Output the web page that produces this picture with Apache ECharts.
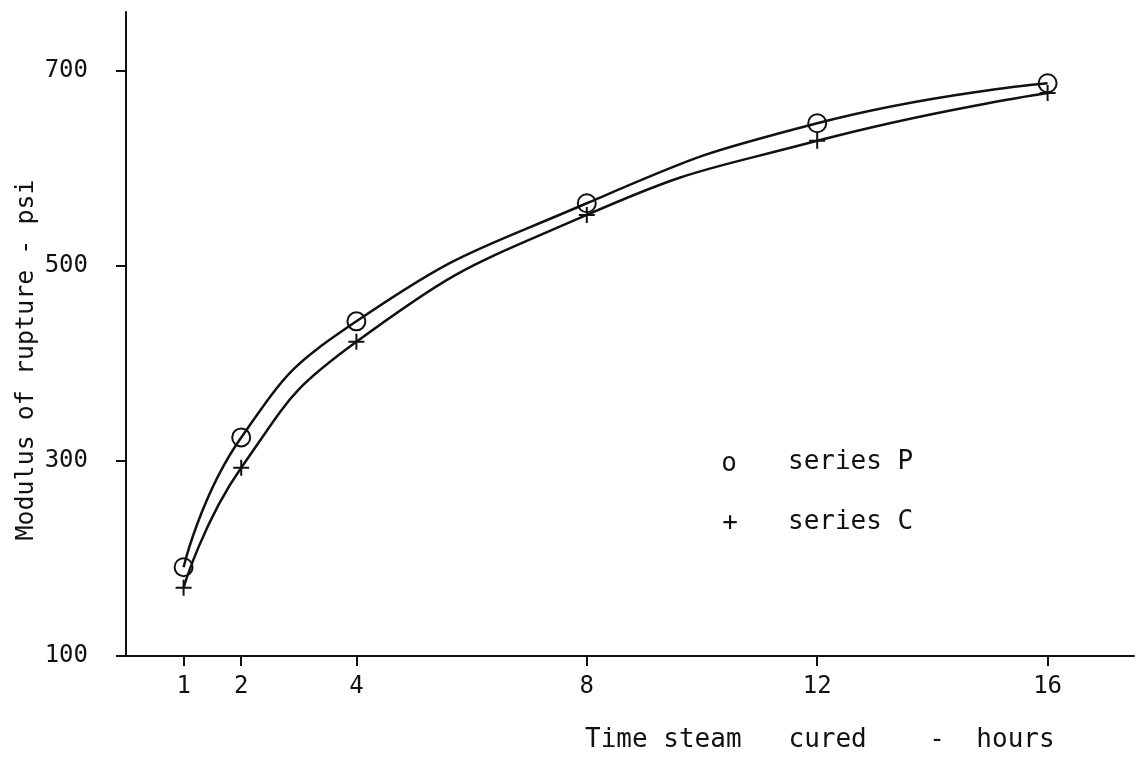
<!DOCTYPE html>
<html>
<head>
    <meta charset="utf-8">
    <title>Modulus of rupture vs time steam cured</title>
    <script src="https://cdn.jsdelivr.net/npm/echarts@6/dist/echarts.min.js"></script>
    <style>
        html, body { margin: 0; padding: 0; background: #fff; }
    </style>
</head>
<body>
    <div id="chart" style="width: 1135px;height:758px;"></div>
    <script type="text/javascript">
        // data
        var hours = [1, 2, 4, 8, 12, 16];
        var seriesP = [191, 324, 443, 564, 646, 687];
        var seriesC = [170, 293, 422, 552, 628, 677];
        var xTicks = [1, 2, 4, 8, 12, 16];
        var yTicks = [100, 300, 500, 700];

        var font = '"DejaVu Sans Mono", "Liberation Mono", monospace';
        var ink = '#111';

        function pairs(xs, ys) {
            return xs.map(function (x, i) { return [x, ys[i]]; });
        }

        // plain text helper for titles and the key
        function label(text, x, y, size, align, rotate) {
            return {
                type: 'text',
                x: x,
                y: y,
                rotation: rotate || 0,
                style: {
                    text: text,
                    fill: ink,
                    font: size + 'px ' + font,
                    align: align,
                    verticalAlign: 'middle'
                }
            };
        }

        var myChart = echarts.init(document.getElementById('chart'));

        var option = {
            backgroundColor: '#fff',
            animation: false,
            grid: {
                left: 126,
                right: 1,
                top: 12,
                bottom: 102
            },
            xAxis: {
                type: 'value',
                min: 0,
                max: 17.5,
                splitLine: { show: false },
                axisLine: { lineStyle: { color: ink, width: 2 } },
                axisTick: {
                    customValues: xTicks,
                    length: 10,
                    lineStyle: { color: ink, width: 2 }
                },
                axisLabel: {
                    customValues: xTicks,
                    margin: 19,
                    color: ink,
                    fontFamily: font,
                    fontSize: 24
                }
            },
            yAxis: {
                type: 'value',
                min: 100,
                max: 760,
                splitLine: { show: false },
                axisLine: { show: true, lineStyle: { color: ink, width: 2 } },
                axisTick: {
                    show: true,
                    customValues: yTicks,
                    length: 10,
                    lineStyle: { color: ink, width: 2 }
                },
                axisLabel: {
                    customValues: yTicks,
                    margin: 38,
                    color: ink,
                    fontFamily: font,
                    fontSize: 24,
                    padding: [8, 0, 0, 0]
                }
            },
            graphic: [
                label('Modulus of rupture - psi', 26, 360, 25, 'center', Math.PI / 2),
                label('Time steam   cured    -  hours', 585, 740, 26, 'left'),
                label('o', 729, 464, 26, 'center'),
                label('series P', 788, 462, 26, 'left'),
                label('+', 730, 523, 26, 'center'),
                label('series C', 788, 522, 26, 'left')
            ],
            series: [
                {
                    name: 'series P',
                    type: 'line',
                    data: pairs(hours, seriesP),
                    smooth: 0.5,
                    symbol: 'circle',
                    symbolSize: 18,
                    lineStyle: { color: ink, width: 2.5 },
                    itemStyle: { color: 'rgba(0,0,0,0)', borderColor: ink, borderWidth: 2 }
                },
                {
                    name: 'series C',
                    type: 'line',
                    data: pairs(hours, seriesC),
                    smooth: 0.5,
                    symbol: 'path://M0,-1L0,1M-1,0L1,0',
                    symbolSize: 16,
                    lineStyle: { color: ink, width: 2.5 },
                    itemStyle: { color: ink, borderColor: ink, borderWidth: 2 }
                }
            ]
        };

        myChart.setOption(option);
    </script>
</body>
</html>
